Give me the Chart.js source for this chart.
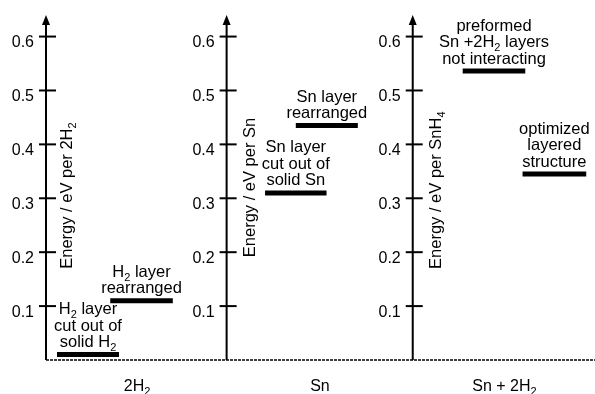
<!DOCTYPE html>
<html>
<head>
<meta charset="utf-8">
<script src="https://cdn.jsdelivr.net/npm/chart.js@4/dist/chart.umd.min.js"></script>
<style>
  html, body { margin: 0; padding: 0; background: #fff; }
  canvas { display: block; }
</style>
</head>
<body>
<canvas id="levelChart" width="595" height="394"></canvas>
<script>
// Energy levels (eV) and where each level sits along the horizontal axis (0-100)
const levelValues = [0.01, 0.11, 0.31, 0.435, 0.536, 0.345]
const levelStart = [2.0, 11.7, 39.9, 45.5, 75.9, 86.8]
const levelEnd = [13.3, 23.1, 51.1, 56.8, 87.3, 98.4]
const levelLabels = [
  ['H₂ layer', 'cut out of', 'solid H₂'],
  ['H₂ layer', 'rearranged'],
  ['Sn layer', 'cut out of', 'solid Sn'],
  ['Sn layer', 'rearranged'],
  ['preformed', 'Sn +2H₂ layers', 'not interacting'],
  ['optimized', 'layered', 'structure']
]

// Panels: vertical energy axis position, title and category
const panelAxisX = [0, 32.9, 66.8]
const panelTitles = ['Energy / eV per 2H₂', 'Energy / eV per Sn', 'Energy / eV per SnH₄']
const panelTitleY = [0.305, 0.32, 0.315]
const categoryLabels = ['2H₂', 'Sn', 'Sn + 2H₂']
const categoryX = [16.6, 49.9, 83.5]
const tickValues = [0.1, 0.2, 0.3, 0.4, 0.5, 0.6]

const FONT_FAMILY = '"Liberation Sans", Arial, Helvetica, sans-serif'
const SUBS = { '₀': '0', '₁': '1', '₂': '2', '₃': '3', '₄': '4', '₅': '5', '₆': '6', '₇': '7', '₈': '8', '₉': '9' }

function splitRich(str) {
  const parts = []
  for (const ch of str) {
    const sub = SUBS[ch] !== undefined
    const txt = sub ? SUBS[ch] : ch
    const last = parts[parts.length - 1]
    if (last && last.sub === sub) last.text += txt
    else parts.push({ text: txt, sub })
  }
  return parts
}

// draws text with subscripts, centred on x, alphabetic baseline at y
function drawRich(ctx, str, x, y, size) {
  const parts = splitRich(str)
  const subSize = Math.round(size * 0.68)
  let total = 0
  parts.forEach(p => {
    ctx.font = (p.sub ? subSize : size) + 'px ' + FONT_FAMILY
    p.w = ctx.measureText(p.text).width
    total += p.w
  })
  let cx = x - total / 2
  ctx.textAlign = 'left'
  ctx.textBaseline = 'alphabetic'
  parts.forEach(p => {
    ctx.font = (p.sub ? subSize : size) + 'px ' + FONT_FAMILY
    ctx.fillText(p.text, cx, p.sub ? y + size * 0.25 : y)
    cx += p.w
  })
}

const levelDecor = {
  id: 'levelDecor',
  beforeDatasetsDraw(chart) {
    const { ctx, chartArea } = chart
    const yScale = chart.scales.y
    const x0 = chart.scales.x.getPixelForValue(0)
    const y0 = yScale.getPixelForValue(0)
    ctx.save()
    ctx.strokeStyle = '#000'
    ctx.lineWidth = 1.6
    ctx.setLineDash([3, 1])
    ctx.beginPath()
    ctx.moveTo(x0, y0)
    ctx.lineTo(chart.width, y0)
    ctx.stroke()
    ctx.restore()
  },
  afterDatasetsDraw(chart) {
    const { ctx, chartArea } = chart
    const xScale = chart.scales.x
    const yScale = chart.scales.y
    ctx.save()
    ctx.fillStyle = '#000'
    ctx.strokeStyle = '#000'

    panelAxisX.forEach((ax, i) => {
      const px = xScale.getPixelForValue(ax)
      const bottom = yScale.getPixelForValue(0)
      const top = chartArea.top

      // axis line with arrow head
      ctx.lineWidth = 2
      ctx.beginPath()
      ctx.moveTo(px, bottom)
      ctx.lineTo(px, top + 6)
      ctx.stroke()
      ctx.beginPath()
      ctx.moveTo(px, top)
      ctx.lineTo(px - 4, top + 10)
      ctx.lineTo(px + 4, top + 10)
      ctx.closePath()
      ctx.fill()

      // ticks and tick labels
      tickValues.forEach(v => {
        const py = yScale.getPixelForValue(v)
        ctx.lineWidth = 2
        ctx.beginPath()
        ctx.moveTo(px - 7, py)
        ctx.lineTo(px + 10, py)
        ctx.stroke()
        ctx.font = '16px ' + FONT_FAMILY
        ctx.textAlign = 'right'
        ctx.textBaseline = 'middle'
        ctx.fillText(v.toFixed(1), px - 12, py + 6)
      })

      // rotated axis title
      ctx.save()
      ctx.translate(px + 26 + (i > 0 ? 2.5 : 0), yScale.getPixelForValue(panelTitleY[i]))
      ctx.rotate(-Math.PI / 2)
      drawRich(ctx, panelTitles[i], 0, 0, 16.5)
      ctx.restore()

      // category label under the panel
      drawRich(ctx, categoryLabels[i], xScale.getPixelForValue(categoryX[i]), bottom + 30.5, 16)
    })

    // level labels stacked above each level
    levelLabels.forEach((lines, i) => {
      const cx = xScale.getPixelForValue((levelStart[i] + levelEnd[i]) / 2)
      const base = yScale.getPixelForValue(levelValues[i]) - 7.5
      lines.forEach((line, j) => {
        drawRich(ctx, line, cx, base - (lines.length - 1 - j) * 16.5, 16.5)
      })
    })
    ctx.restore()
  }
}

const datasets = levelValues.map((v, i) => ({
  label: levelLabels[i].join(' '),
  data: [{ x: levelStart[i], y: v }, { x: levelEnd[i], y: v }],
  borderColor: '#000',
  borderWidth: 5,
  borderCapStyle: 'butt',
  pointRadius: 0,
  fill: false
}))

new Chart(document.getElementById('levelChart'), {
  type: 'line',
  data: { datasets },
  options: {
    responsive: false,
    animation: false,
    layout: { padding: { left: 46, right: 0, top: 15, bottom: 34 } },
    plugins: {
      legend: { display: false },
      tooltip: { enabled: false }
    },
    scales: {
      x: { type: 'linear', min: 0, max: 100, display: false },
      y: { type: 'linear', min: 0, max: 0.64, display: false }
    }
  },
  plugins: [levelDecor]
})
</script>
</body>
</html>
